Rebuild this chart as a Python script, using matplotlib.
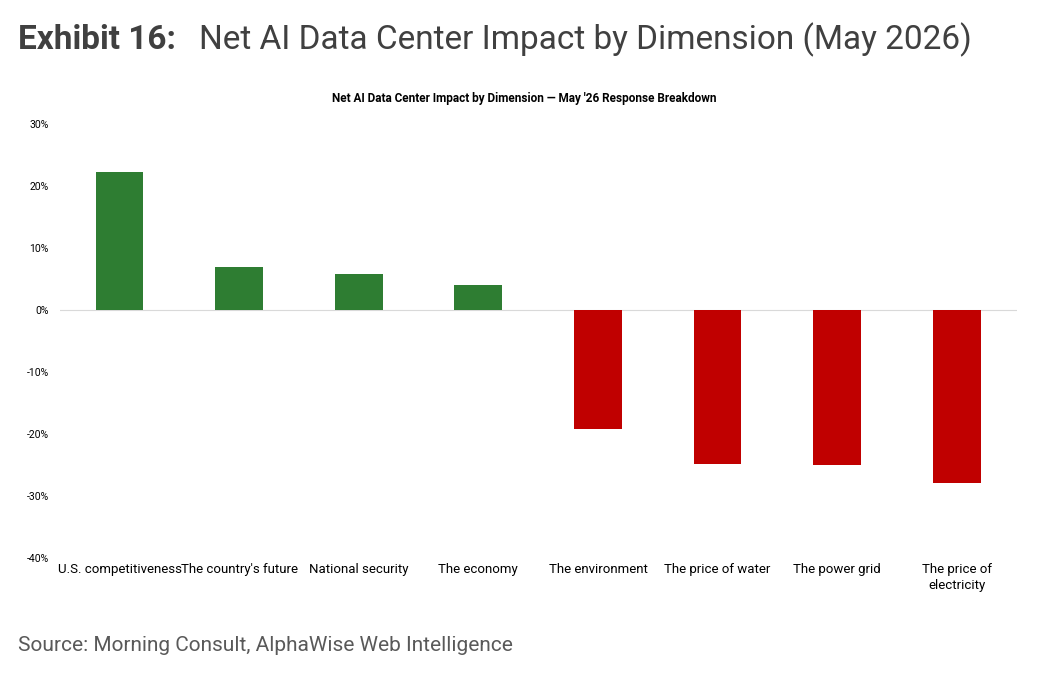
import matplotlib

matplotlib.use("Agg")
import matplotlib.pyplot as plt
from matplotlib.ticker import FuncFormatter

plt.rcParams["font.family"] = ["Roboto", "DejaVu Sans"]

categories = [
    "U.S. competitiveness", "The country's future", "National security", "The economy",
    "The environment", "The price of water", "The power grid", "The price of\nelectricity",
]
net_impact = [22.2, 6.9, 5.7, 4.0, -19.2, -24.8, -25.1, -28.0]

fig = plt.figure(figsize=(10.48, 6.87), dpi=100)
ax = fig.add_axes([0.057, 0.188, 0.913, 0.632])

colors = ["#2e7d32" if v >= 0 else "#c00000" for v in net_impact]
ax.bar(range(len(categories)), net_impact, width=0.4, color=colors, zorder=2)
ax.axhline(0, color="#d9d9d9", linewidth=0.8, zorder=1)

ax.set_xlim(-0.5, 7.5)
ax.set_ylim(-40, 30)
ax.set_yticks(range(-40, 31, 10))
ax.yaxis.set_major_formatter(FuncFormatter(lambda v, _: f"{v:.0f}%"))
ax.set_xticks(range(len(categories)))
ax.set_xticklabels(categories, fontsize=9.5, va="top", linespacing=1.3)
ax.tick_params(axis="y", labelsize=7.5, length=0, pad=8)
ax.tick_params(axis="x", length=0, pad=4)
for spine in ax.spines.values():
    spine.set_visible(False)
# labels sit under the axes bottom (-40%)

fig.text(0.017, 0.942, "Exhibit 16:", fontsize=24, fontweight="bold", color="#404040", va="center")
fig.text(0.19, 0.942, "Net AI Data Center Impact by Dimension (May 2026)", fontsize=24,
         color="#404040", va="center")
fig.text(0.5, 0.856, "Net AI Data Center Impact by Dimension \u2014 May '26 Response Breakdown",
         fontsize=8.5, fontweight="bold", ha="center", va="center")
fig.text(0.017, 0.061, "Source: Morning Consult, AlphaWise Web Intelligence", fontsize=15,
         color="#595959", va="center")

fig.savefig("out.png", dpi=100)
